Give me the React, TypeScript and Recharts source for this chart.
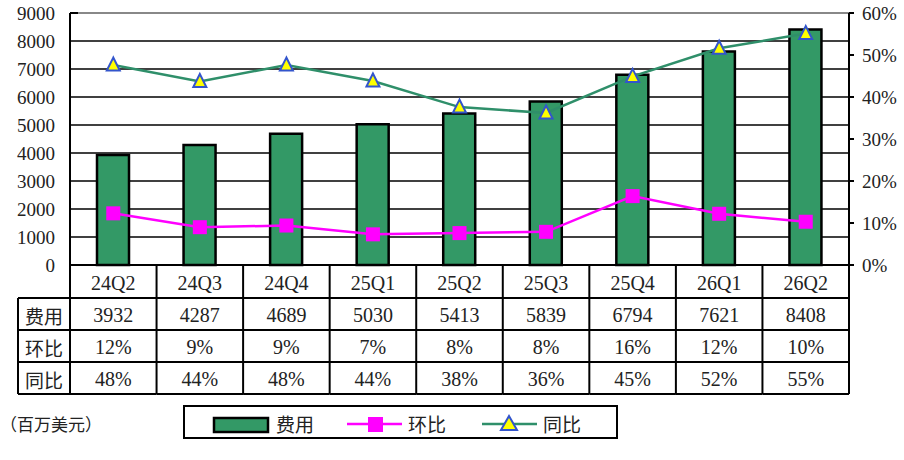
import React from "react";
import {
  ComposedChart,
  Bar,
  Line,
  XAxis,
  YAxis,
  CartesianGrid,
  ReferenceLine,
} from "recharts";

const categories = ["24Q2", "24Q3", "24Q4", "25Q1", "25Q2", "25Q3", "25Q4", "26Q1", "26Q2"];
const expense = [3932, 4287, 4689, 5030, 5413, 5839, 6794, 7621, 8408];
const qoq = [0.123, 0.09, 0.094, 0.073, 0.076, 0.079, 0.164, 0.122, 0.103];
const yoy = [0.476, 0.437, 0.476, 0.438, 0.376, 0.362, 0.449, 0.516, 0.551];
const qoqLabels = ["12%", "9%", "9%", "7%", "8%", "8%", "16%", "12%", "10%"];
const yoyLabels = ["48%", "44%", "48%", "44%", "38%", "36%", "45%", "52%", "55%"];
const leftTicks = [0, 1000, 2000, 3000, 4000, 5000, 6000, 7000, 8000, 9000];
const rightTicks = [0, 0.1, 0.2, 0.3, 0.4, 0.5, 0.6];
const rowNames = ["费用", "环比", "同比"];
const seriesNames = { expense: "费用", qoq: "环比", yoy: "同比" };
const unitText = "（百万美元）";

const data = categories.map((c, i) => ({
  cat: c,
  expense: expense[i],
  qoq: qoq[i],
  yoy: yoy[i],
}));

const W = 904;
const H = 460;
const M = { top: 13, right: 0, bottom: 0, left: 8 };
const LEFT_AXIS_W = 62;
const RIGHT_AXIS_W = 55;
const XAXIS_H = 195;
const PLOT_L = M.left + LEFT_AXIS_W;
const PLOT_R = W - M.right - RIGHT_AXIS_W;
const PLOT_B = H - M.bottom - XAXIS_H;
const BAND = (PLOT_R - PLOT_L) / categories.length;
const ROWS = [0, 33, 65, 97, 129];
const LABEL_COL_L = 18;

const FONT = "'Liberation Serif', 'Noto Sans CJK SC', serif";
const CJK = "'Noto Sans CJK SC', sans-serif";
const GREEN = "#339966";
const LINE_GREEN = "#2F8F6A";
const MAGENTA = "#FF00FF";

const TableTick = (props: any) => {
  const { x, payload, index } = props;
  const i = index ?? categories.indexOf(payload.value);
  const y0 = PLOT_B;
  const left = x - BAND / 2;
  const right = x + BAND / 2;
  const cells = [payload.value, String(expense[i]), qoqLabels[i], yoyLabels[i]];
  const lineStyle = { stroke: "#000", strokeWidth: 2 };
  return (
    <g>
      {i === 0 && (
        <g>
          <line x1={left} x2={left} y1={y0} y2={y0 + ROWS[4]} {...lineStyle} />
          <line x1={LABEL_COL_L} x2={LABEL_COL_L} y1={y0 + ROWS[1]} y2={y0 + ROWS[4]} {...lineStyle} />
          {[1, 2, 3, 4].map((r) => (
            <line key={r} x1={LABEL_COL_L} x2={left} y1={y0 + ROWS[r]} y2={y0 + ROWS[r]} {...lineStyle} />
          ))}
          {rowNames.map((n, r) => (
            <text
              key={n}
              x={(LABEL_COL_L + left) / 2}
              y={y0 + (ROWS[r + 1] + ROWS[r + 2]) / 2 + 1}
              textAnchor="middle"
              dominantBaseline="central"
              fontFamily={CJK}
              fontSize={19}
              fill="#222"
            >
              {n}
            </text>
          ))}
        </g>
      )}
      <line x1={right} x2={right} y1={y0} y2={y0 + ROWS[4]} {...lineStyle} />
      {[1, 2, 3, 4].map((r) => (
        <line key={r} x1={left} x2={right} y1={y0 + ROWS[r]} y2={y0 + ROWS[r]} {...lineStyle} />
      ))}
      {cells.map((t, r) => (
        <text
          key={r}
          x={x}
          y={y0 + (ROWS[r] + ROWS[r + 1]) / 2 + 1}
          textAnchor="middle"
          dominantBaseline="central"
          fontFamily={FONT}
          fontSize={20}
          fill="#222"
        >
          {t}
        </text>
      ))}
    </g>
  );
};

const SquareDot = (props: any) => {
  const { cx, cy } = props;
  if (cx == null || cy == null) return null;
  return <rect x={cx - 7} y={cy - 7} width={14} height={14} fill={MAGENTA} />;
};

const TriDot = (props: any) => {
  const { cx, cy } = props;
  if (cx == null || cy == null) return null;
  const s = 6.5;
  return (
    <polygon
      points={`${cx},${cy - s - 1} ${cx - s},${cy + s - 1} ${cx + s},${cy + s - 1}`}
      fill="#FFFF00"
      stroke="#3355CC"
      strokeWidth={2}
    />
  );
};

const Legend = () => (
  <svg
    width={W}
    height={H}
    style={{ position: "absolute", left: 0, top: 0, pointerEvents: "none" }}
  >
    <line x1={PLOT_L} x2={PLOT_L + 8} y1={M.top} y2={M.top} stroke="#000" strokeWidth={2} />
    <text x={0} y={423} dominantBaseline="central" fontFamily={CJK} fontSize={17} fill="#222">
      {unitText}
    </text>
    <rect x={184} y={406} width={433} height={32} fill="#fff" stroke="#000" strokeWidth={2} />
    <rect x={214} y={418} width={54} height={14} fill={GREEN} stroke="#000" strokeWidth={2.5} />
    <text x={276} y={423} dominantBaseline="central" fontFamily={CJK} fontSize={19} fill="#222">
      {seriesNames.expense}
    </text>
    <line x1={347} x2={402} y1={424} y2={424} stroke={MAGENTA} strokeWidth={2.5} />
    <rect x={368} y={417} width={15} height={15} fill={MAGENTA} />
    <text x={408} y={423} dominantBaseline="central" fontFamily={CJK} fontSize={19} fill="#222">
      {seriesNames.qoq}
    </text>
    <line x1={482} x2={537} y1={424} y2={424} stroke={LINE_GREEN} strokeWidth={2.5} />
    <polygon points="509,416 501,430 517,430" fill="#FFFF00" stroke="#3355CC" strokeWidth={2} />
    <text x={543} y={423} dominantBaseline="central" fontFamily={CJK} fontSize={19} fill="#222">
      {seriesNames.yoy}
    </text>
  </svg>
);

export default function App() {
  return (
    <div style={{ position: "absolute", left: 0, top: 0, width: W, height: H, background: "#fff" }}>
      <ComposedChart width={W} height={H} data={data} margin={M}>
        <CartesianGrid yAxisId="left" vertical={false} stroke="#000" strokeWidth={1.5} />
        <XAxis
          dataKey="cat"
          height={XAXIS_H}
          interval={0}
          tickLine={false}
          tickSize={0}
          tickMargin={0}
          axisLine={{ stroke: "#000", strokeWidth: 2 }}
          tick={<TableTick />}
        />
        <YAxis
          yAxisId="left"
          orientation="left"
          width={LEFT_AXIS_W}
          domain={[0, 9000]}
          ticks={leftTicks}
          interval={0}
          tickLine={false}
          tickSize={6}
          tickMargin={9}
          axisLine={{ stroke: "#000", strokeWidth: 2 }}
          tick={{ fontFamily: FONT, fontSize: 19, fill: "#222" }}
        />
        <YAxis
          yAxisId="right"
          orientation="right"
          width={RIGHT_AXIS_W}
          domain={[0, 0.6]}
          ticks={rightTicks}
          interval={0}
          tickSize={5}
          tickMargin={8}
          tickLine={{ stroke: "#000", strokeWidth: 2 }}
          axisLine={{ stroke: "#000", strokeWidth: 2 }}
          tickFormatter={(v: number) => `${Math.round(v * 100)}%`}
          tick={{ fontFamily: FONT, fontSize: 19, fill: "#222", textAnchor: "start" }}
        />
        <ReferenceLine yAxisId="left" y={9000} stroke="#888" strokeWidth={2} />
        <Bar
          yAxisId="left"
          dataKey="expense"
          name={seriesNames.expense}
          barSize={32}
          fill={GREEN}
          stroke="#000"
          strokeWidth={2.5}
          isAnimationActive={false}
        />
        <Line
          yAxisId="right"
          dataKey="qoq"
          name={seriesNames.qoq}
          stroke={MAGENTA}
          strokeWidth={2.5}
          dot={<SquareDot />}
          activeDot={false}
          isAnimationActive={false}
        />
        <Line
          yAxisId="right"
          dataKey="yoy"
          name={seriesNames.yoy}
          stroke={LINE_GREEN}
          strokeWidth={2.5}
          dot={<TriDot />}
          activeDot={false}
          isAnimationActive={false}
        />
      </ComposedChart>
      <Legend />
    </div>
  );
}
